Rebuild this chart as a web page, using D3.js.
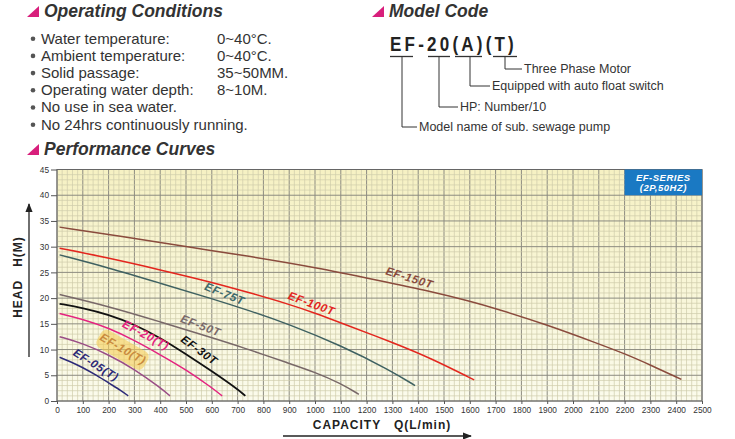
<!DOCTYPE html>
<meta charset="utf-8">
<style>
body { margin: 0; background: #fff; }
svg text { font-family: "Liberation Sans", Arial, sans-serif; }
.tick text { fill: #333; }
</style>
<script src="https://d3js.org/d3.v7.min.js"></script>
<body>
<script>
// ---- data ----
const conditionNames = ['Water temperature:', 'Ambient temperature:', 'Solid passage:',
  'Operating water depth:', 'No use in sea water.', 'No 24hrs continuously running.'];
const conditionValues = ['0~40\u00B0C.', '0~40\u00B0C.', '35~50MM.', '8~10M.', '', ''];

const codeParts = ['EF', '-', '20', '(A)', '(T)'];
const codeNotes = ['Three Phase Motor', 'Equipped with auto float switch', 'HP: Number/10',
  'Model name of sub. sewage pump'];

const xTicks = [0, 100, 200, 300, 400, 500, 600, 700, 800, 900, 1000, 1100, 1200, 1300,
  1400, 1500, 1600, 1700, 1800, 1900, 2000, 2100, 2200, 2300, 2400, 2500];
const yTicks = [0, 5, 10, 15, 20, 25, 30, 35, 40, 45];

const models = ['EF-150T', 'EF-100T', 'EF-75T', 'EF-50T', 'EF-30T', 'EF-20(T)', 'EF-10(T)', 'EF-05(T)'];
const colors = ['#8a4b3d', '#e3261e', '#3f6161', '#786868', '#111111', '#e4237f', '#9a4d86', '#2c2a78'];

const ef150 = [[10,33.8],[250,32.0],[500,30.0],[750,28.1],[1000,26.0],[1250,23.4],[1450,21.3],
  [1600,19.4],[1700,18.0],[1900,14.8],[2100,11.1],[2200,9.2],[2300,7.0],[2420,4.2]];
const ef100 = [[10,29.7],[200,27.8],[400,25.5],[600,23.1],[750,21.0],[900,18.8],[1000,17.1],
  [1100,15.2],[1300,11.4],[1450,8.3],[1617,4.1]];
const ef75 = [[10,28.4],[200,25.9],[400,22.9],[600,19.9],[750,17.5],[900,14.9],[1100,10.8],
  [1290,6.0],[1388,3.0]];
const ef50 = [[10,20.7],[200,18.4],[400,15.4],[600,12.3],[709,10.6],[900,7.3],[1000,5.6],[1100,3.4],[1170,1.3]];
const ef30 = [[10,18.9],[100,18.1],[200,16.8],[300,14.9],[400,12.3],[500,9.1],[600,5.8],[700,2.3],[730,1.0]];
const ef20 = [[10,17.0],[100,15.9],[200,14.2],[300,11.8],[400,9.0],[500,6.1],[600,2.6],[640,1.0]];
const ef10 = [[10,12.5],[100,11.2],[200,9.0],[300,6.2],[400,2.6],[438,1.0]];
const ef05 = [[10,8.5],[50,7.7],[100,6.5],[150,5.1],[200,3.5],[250,2.0],[276,1.0]];
const curves = [ef150, ef100, ef75, ef50, ef30, ef20, ef10, ef05];

// label anchor (capacity, head) and rotation, one per model
const labelAt = [[1364,23.6],[984,18.6],[647,20.5],[554,14.3],[547,9.6],[341,12.5],[252,9.8],[147,6.7]];
const labelAngle = [17, 20, 22, 21, 36, 28, 30, 32];
const labelColors = ['#8a4b3d', '#e3261e', '#3f6a6a', '#7a6a6a', '#111111', '#e4237f', '#c98b3e', '#2c2a78'];

// ---- page ----
const svg = d3.select('body').append('svg')
  .attr('width', 735).attr('height', 439);

function heading(x, y, label) {
  svg.append('path')
    .attr('d', `M${x},${y} L${x + 12},${y - 11} L${x + 12},${y} Z`)
    .attr('fill', '#d81f7c');
  svg.append('text')
    .attr('x', x + 17).attr('y', y)
    .attr('font-size', 17.5).attr('font-weight', 'bold').attr('font-style', 'italic')
    .attr('fill', '#333').text(label);
}

heading(27, 17, 'Operating Conditions');
heading(27, 155, 'Performance Curves');
heading(372, 17, 'Model Code');

conditionNames.forEach((t, i) => {
  const y = 43.5 + i * 17.2;
  svg.append('circle').attr('cx', 33).attr('cy', y - 4.8).attr('r', 2.3).attr('fill', '#555');
  svg.append('text').attr('x', 41).attr('y', y).attr('font-size', 15).attr('fill', '#333').text(t);
  if (conditionValues[i]) {
    svg.append('text').attr('x', 217).attr('y', y).attr('font-size', 15).attr('fill', '#333')
      .text(conditionValues[i]);
  }
});

// model code
svg.append('text').attr('x', 390).attr('y', 51)
  .attr('font-size', 21).attr('font-weight', 'bold').attr('letter-spacing', 4).attr('fill', '#222')
  .attr('textLength', 127).attr('lengthAdjust', 'spacingAndGlyphs')
  .text(codeParts.join(''));

const underline = [[390, 413], [428, 450], [455, 482], [493, 517]];
underline.forEach(u => {
  svg.append('line').attr('x1', u[0]).attr('x2', u[1]).attr('y1', 56.5).attr('y2', 56.5)
    .attr('stroke', '#333').attr('stroke-width', 1.3);
});
const bracket = [[505, 69, 522], [470, 86, 490], [439, 107, 458], [402, 127, 417]];
bracket.forEach((b, i) => {
  svg.append('path').attr('d', `M${b[0]},56.5 V${b[1]} H${b[2]}`)
    .attr('fill', 'none').attr('stroke', '#333').attr('stroke-width', 1);
  svg.append('text').attr('x', b[2] + 2).attr('y', b[1] + 4.3)
    .attr('font-size', 12.5).attr('fill', '#333').text(codeNotes[i]);
});

// ---- chart ----
const x = d3.scaleLinear().domain([0, 2500]).range([57, 702]);
const y = d3.scaleLinear().domain([0, 45]).range([401, 169.5]);

const defs = svg.append('defs');
const grad = defs.append('linearGradient').attr('id', 'bg').attr('x1', 0).attr('y1', 0).attr('x2', 0).attr('y2', 1);
grad.append('stop').attr('offset', '0%').attr('stop-color', '#f6f1c3');
grad.append('stop').attr('offset', '100%').attr('stop-color', '#fbfbec');

svg.append('rect')
  .attr('x', x(0)).attr('y', y(45))
  .attr('width', x(2500) - x(0)).attr('height', y(0) - y(45))
  .attr('fill', 'url(#bg)');

const grid = svg.append('g');
grid.selectAll('.v').data(d3.range(0, 2501, 20)).join('line')
  .attr('x1', d => x(d)).attr('x2', d => x(d)).attr('y1', y(0)).attr('y2', y(45))
  .attr('stroke', d => d % 100 === 0 ? '#8c8b80' : '#cfcbaa')
  .attr('stroke-width', d => d % 100 === 0 ? 1 : 0.7);
grid.selectAll('.h').data(d3.range(0, 46, 1)).join('line')
  .attr('y1', d => y(d)).attr('y2', d => y(d)).attr('x1', x(0)).attr('x2', x(2500))
  .attr('stroke', d => d % 5 === 0 ? '#8c8b80' : '#cfcbaa')
  .attr('stroke-width', d => d % 5 === 0 ? 1 : 0.7);

svg.append('rect')
  .attr('x', x(0)).attr('y', y(45))
  .attr('width', x(2500) - x(0)).attr('height', y(0) - y(45))
  .attr('fill', 'none').attr('stroke', '#666').attr('stroke-width', 1);

// axes
const xAxis = svg.append('g').attr('transform', `translate(0,${y(0)})`)
  .call(d3.axisBottom(x).tickValues(xTicks).tickSize(3).tickPadding(3).tickFormat(d3.format('d')));
xAxis.selectAll('text').attr('font-size', 8.3);
const yAxis = svg.append('g').attr('transform', `translate(${x(0)},0)`)
  .call(d3.axisLeft(y).tickValues(yTicks).tickSize(6).tickPadding(2));
yAxis.selectAll('text').attr('font-size', 8.3);
svg.selectAll('.domain').remove();
svg.selectAll('.tick line').attr('stroke', '#555');

// series box
svg.append('rect')
  .attr('x', x(2200)).attr('y', y(45))
  .attr('width', x(2500) - x(2200)).attr('height', y(40) - y(45))
  .attr('fill', '#1a79c3');
['EF-SERIES', '(2P,50HZ)'].forEach((t, i) => {
  svg.append('text').attr('x', (x(2200) + x(2500)) / 2).attr('y', y(45) + 11 + i * 10.5)
    .attr('text-anchor', 'middle').attr('font-size', 9.5).attr('font-weight', 'bold')
    .attr('font-style', 'italic').attr('fill', '#fff').attr('letter-spacing', 0.5).text(t);
});

// highlight behind EF-10(T)
const hl = labelAt[6];
svg.append('rect')
  .attr('x', -27).attr('y', -11).attr('width', 54).attr('height', 20).attr('rx', 6)
  .attr('transform', `translate(${x(hl[0])},${y(hl[1])}) rotate(${labelAngle[6]})`)
  .attr('fill', '#f5cd58').attr('opacity', 0.6);

// curves
const line = d3.line().x(d => x(d[0])).y(d => y(d[1])).curve(d3.curveBasis);
svg.append('g').selectAll('path').data(curves).join('path')
  .attr('d', line)
  .attr('fill', 'none')
  .attr('stroke', (d, i) => colors[i])
  .attr('stroke-width', (d, i) => i === 4 ? 1.8 : 1.5);

// curve labels
svg.append('g').selectAll('text').data(models).join('text')
  .attr('transform', (d, i) => `translate(${x(labelAt[i][0])},${y(labelAt[i][1])}) rotate(${labelAngle[i]})`)
  .attr('text-anchor', 'middle').attr('dy', 2)
  .attr('font-size', 11.5).attr('font-style', 'italic').attr('font-weight', 'bold')
  .attr('letter-spacing', 0.6)
  .attr('fill', (d, i) => labelColors[i])
  .text(d => d);

// axis titles and arrows
defs.append('marker').attr('id', 'arrow').attr('viewBox', '0 0 10 10')
  .attr('refX', 9).attr('refY', 5).attr('markerWidth', 7).attr('markerHeight', 7)
  .attr('orient', 'auto')
  .append('path').attr('d', 'M0,1 L10,5 L0,9 Z').attr('fill', '#222');

svg.append('text')
  .attr('transform', 'translate(22,277) rotate(-90)')
  .attr('text-anchor', 'middle').attr('font-size', 12).attr('font-weight', 'bold')
  .attr('letter-spacing', 1).attr('fill', '#222').attr('xml:space', 'preserve')
  .text('HEAD   H(M)');
svg.append('line').attr('x1', 29).attr('x2', 29).attr('y1', 357).attr('y2', 204)
  .attr('stroke', '#222').attr('stroke-width', 1.3).attr('marker-end', 'url(#arrow)');

svg.append('text')
  .attr('x', 382).attr('y', 429)
  .attr('text-anchor', 'middle').attr('font-size', 12).attr('font-weight', 'bold')
  .attr('letter-spacing', 1).attr('fill', '#222').attr('xml:space', 'preserve')
  .text('CAPACITY   Q(L/min)');
svg.append('line').attr('x1', 283).attr('x2', 471).attr('y1', 436).attr('y2', 436)
  .attr('stroke', '#222').attr('stroke-width', 1.3).attr('marker-end', 'url(#arrow)');
</script>
</body>
</html>
